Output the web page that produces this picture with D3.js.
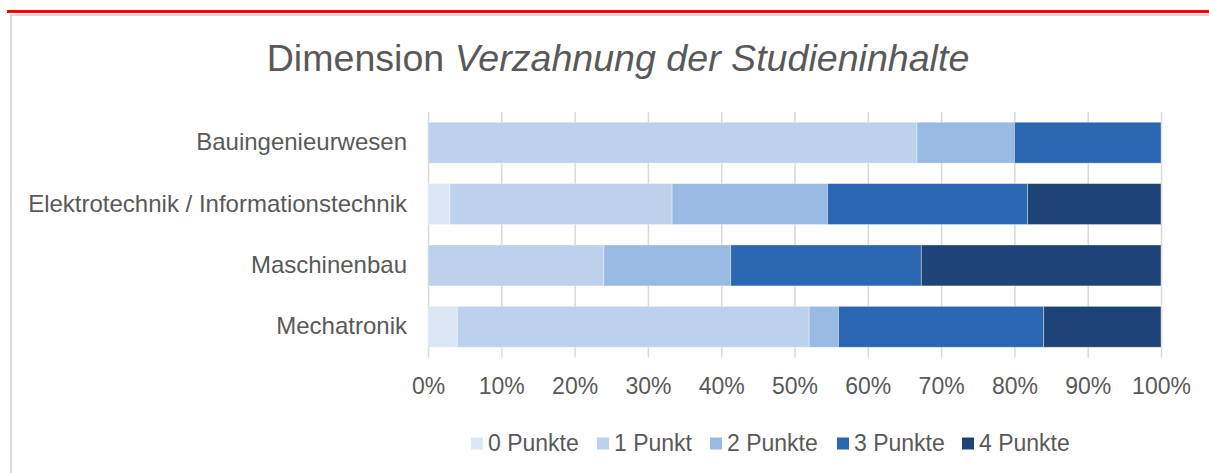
<!DOCTYPE html>
<html>
<head>
<meta charset="utf-8">
<script src="https://cdn.jsdelivr.net/npm/d3@7"></script>
<style>
  body { margin: 0; background: #fff; }
  text { font-family: "Liberation Sans", Arial, sans-serif; fill: #595959; }
</style>
</head>
<body>
<svg id="chart" width="1209" height="473"></svg>
<script>
const categories = ["Bauingenieurwesen", "Elektrotechnik / Informationstechnik", "Maschinenbau", "Mechatronik"];
const seriesNames = ["0 Punkte", "1 Punkt", "2 Punkte", "3 Punkte", "4 Punkte"];
const punkte0 = [0, 3.0, 0, 4];
const punkte1 = [66.7, 30.3, 24.0, 48];
const punkte2 = [13.3, 21.2, 17.3, 4];
const punkte3 = [20, 27.3, 26.0, 28];
const punkte4 = [0, 18.2, 32.7, 16];
const xTicks = [0, 10, 20, 30, 40, 50, 60, 70, 80, 90, 100];
const colors = ["#dbe7f5", "#bcd2ec", "#98bae3", "#2b67b0", "#1e4477"];

const allSeries = [punkte0, punkte1, punkte2, punkte3, punkte4];
const table = categories.map((c, i) => {
    const row = {cat: c};
    seriesNames.forEach((s, j) => row[s] = allSeries[j][i]);
    return row;
});

const svg = d3.select("#chart");
const plot = {left: 428, right: 1161, top: 112, bottom: 357.5};

// frame
svg.append("rect")
    .attr("x", 11).attr("y", 15)
    .attr("width", 1300).attr("height", 600)
    .attr("fill", "none")
    .attr("stroke", "#d9d9d9")
    .attr("stroke-width", 2);

svg.append("line")
    .attr("x1", 7).attr("x2", 1209)
    .attr("y1", 11.5).attr("y2", 11.5)
    .attr("stroke", "#ff0000")
    .attr("stroke-width", 3);

// title
const title = svg.append("text")
    .attr("x", 618).attr("y", 71)
    .attr("text-anchor", "middle")
    .style("font-size", "37.6px");
title.append("tspan").text("Dimension ");
title.append("tspan").style("font-style", "italic").text("Verzahnung der Studieninhalte");

const x = d3.scaleLinear().domain([0, 100]).range([plot.left, plot.right]);
const y = d3.scaleBand().domain(categories)
    .range([plot.top, plot.bottom])
    .paddingInner(0.333)
    .paddingOuter(0.1667);

// gridlines
svg.append("g")
    .attr("transform", `translate(0,${plot.bottom})`)
    .call(d3.axisBottom(x).tickValues(xTicks).tickSize(-(plot.bottom - plot.top)).tickFormat(""))
    .call(g => g.select(".domain").remove())
    .call(g => g.selectAll("line").attr("stroke", "#d9d9d9").attr("stroke-width", 1.5));

// bars
const stack = d3.stack().keys(seriesNames)(table);
svg.append("g")
    .selectAll("g")
    .data(stack)
    .enter()
    .append("g")
    .attr("fill", (d, i) => colors[i])
    .selectAll("rect")
    .data(d => d)
    .enter()
    .append("rect")
    .attr("x", d => x(d[0]))
    .attr("y", d => y(d.data.cat))
    .attr("width", d => x(d[1]) - x(d[0]))
    .attr("height", y.bandwidth())
    .attr("stroke", "#ffffff")
    .attr("stroke-opacity", 0.45)
    .attr("stroke-width", 0.8);

// x axis labels
svg.append("g")
    .attr("transform", `translate(0,${plot.bottom})`)
    .call(d3.axisBottom(x).tickValues(xTicks).tickSize(0).tickPadding(20).tickFormat(d => d + "%"))
    .call(g => g.select(".domain").remove())
    .call(g => g.selectAll("text").style("font-size", "23px").attr("fill", "#595959")
        .style("font-family", "'Liberation Sans', Arial, sans-serif"));

// y axis labels
svg.append("g")
    .attr("transform", `translate(${plot.left},0)`)
    .call(d3.axisLeft(y).tickSize(0).tickPadding(21))
    .call(g => g.select(".domain").remove())
    .call(g => g.selectAll("text").style("font-size", "24px").attr("fill", "#595959")
        .style("font-family", "'Liberation Sans', Arial, sans-serif"));

// legend
const legendX = [471, 597, 710, 837, 962];
const legend = svg.append("g").selectAll("g")
    .data(seriesNames)
    .enter()
    .append("g")
    .attr("transform", (d, i) => `translate(${legendX[i]},437.5)`);
legend.append("rect")
    .attr("width", 12).attr("height", 12)
    .attr("fill", (d, i) => colors[i]);
legend.append("text")
    .attr("x", 17).attr("y", 13.5)
    .style("font-size", "23px")
    .text(d => d);
</script>
</body>
</html>
